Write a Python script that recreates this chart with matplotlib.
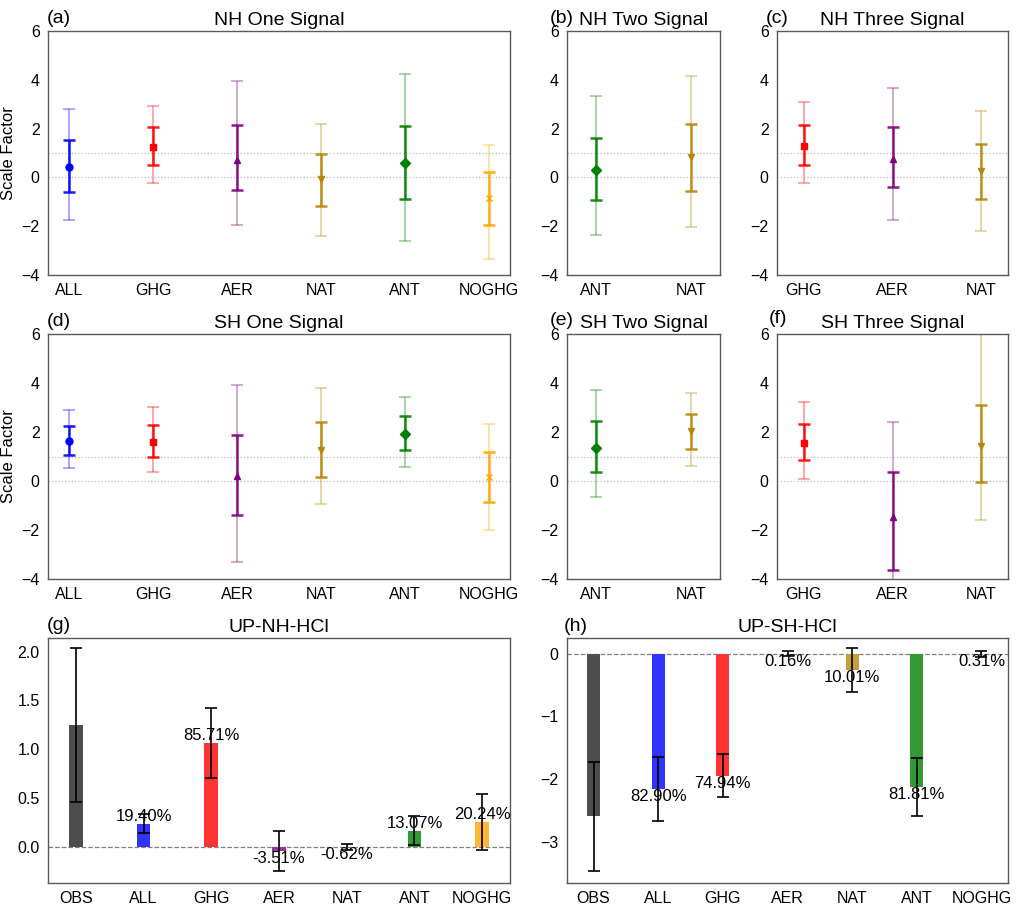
import numpy as np
import matplotlib
matplotlib.use("Agg")
import matplotlib.pyplot as plt

plt.rcParams['font.family'] = ['Liberation Sans', 'DejaVu Sans']

# ---- scale factor data (best estimate, inner range, outer range) ----
colors = {'ALL': 'blue', 'GHG': 'red', 'AER': 'purple', 'NAT': 'darkgoldenrod',
          'ANT': 'green', 'NOGHG': 'orange'}
markers = {'ALL': 'o', 'GHG': 's', 'AER': '^', 'NAT': 'v', 'ANT': 'D', 'NOGHG': 'x'}

one_names = ['ALL', 'GHG', 'AER', 'NAT', 'ANT', 'NOGHG']
two_names = ['ANT', 'NAT']
three_names = ['GHG', 'AER', 'NAT']

nh_one_best = [0.44, 1.24, 0.71, -0.07, 0.57, -0.83]
nh_one_lo66 = [-0.60, 0.51, -0.52, -1.16, -0.87, -1.95]
nh_one_hi66 = [1.53, 2.05, 2.13, 0.97, 2.12, 0.22]
nh_one_lo90 = [-1.75, -0.22, -1.97, -2.39, -2.60, -3.33]
nh_one_hi90 = [2.80, 2.94, 3.95, 2.17, 4.25, 1.34]

nh_two_best = [0.30, 0.82]
nh_two_lo66 = [-0.93, -0.55]
nh_two_hi66 = [1.61, 2.19]
nh_two_lo90 = [-2.36, -2.05]
nh_two_hi90 = [3.33, 4.17]

nh_three_best = [1.30, 0.74, 0.25]
nh_three_lo66 = [0.52, -0.41, -0.90]
nh_three_hi66 = [2.13, 2.06, 1.37]
nh_three_lo90 = [-0.23, -1.75, -2.20]
nh_three_hi90 = [3.10, 3.67, 2.72]

sh_one_best = [1.65, 1.61, 0.19, 1.27, 1.92, 0.16]
sh_one_lo66 = [1.07, 0.99, -1.37, 0.16, 1.25, -0.87]
sh_one_hi66 = [2.26, 2.29, 1.86, 2.42, 2.65, 1.20]
sh_one_lo90 = [0.52, 0.37, -3.31, -0.95, 0.58, -1.99]
sh_one_hi90 = [2.90, 3.02, 3.90, 3.80, 3.44, 2.34]

sh_two_best = [1.36, 2.04]
sh_two_lo66 = [0.35, 1.29]
sh_two_hi66 = [2.44, 2.75]
sh_two_lo90 = [-0.67, 0.61]
sh_two_hi90 = [3.70, 3.59]

sh_three_best = [1.55, -1.46, 1.44]
sh_three_lo66 = [0.84, -3.62, -0.03]
sh_three_hi66 = [2.31, 0.38, 3.09]
sh_three_lo90 = [0.10, -5.20, -1.58]
sh_three_hi90 = [3.21, 2.42, 6.60]

# ---- attributable trends ----
bar_names = ['OBS', 'ALL', 'GHG', 'AER', 'NAT', 'ANT', 'NOGHG']
bar_colors = ['#4d4d4d', '#3333ff', '#ff3333', '#993399', '#c69e3c', '#339933', '#ffb733']

nh_trend = [1.247, 0.236, 1.065, -0.044, -0.008, 0.163, 0.252]
nh_trend_err = [0.788, 0.10, 0.356, 0.207, 0.03, 0.149, 0.286]
nh_pct = [None, 19.40, 85.71, -3.51, -0.62, 13.07, 20.24]

sh_trend = [-2.596, -2.154, -1.945, -0.004, -0.260, -2.124, -0.008]
sh_trend_err = [0.87, 0.51, 0.35, 0.04, 0.35, 0.46, 0.045]
sh_pct = [None, 82.90, 74.94, 0.16, 10.01, 81.81, 0.31]

W, H = 1018, 909
fig = plt.figure(figsize=(W / 100, H / 100), dpi=100)


def add_ax(l, r, t, b):
    return fig.add_axes([l / W, 1 - b / H, (r - l) / W, (b - t) / H])


def style(ax):
    for s in ax.spines.values():
        s.set_color('#5a5a5a')
        s.set_linewidth(1.0)
    ax.tick_params(length=0, pad=6, labelsize=11.5)


def sf_panel(ax, names, best, lo66, hi66, lo90, hi90, title, wide):
    x = np.arange(len(names))
    ax.axhline(0, color='#bbbbbb', ls=':', lw=0.9, zorder=0)
    ax.axhline(1, color='#bbbbbb', ls=':', lw=0.9, zorder=0)
    for i, n in enumerate(names):
        c = colors[n]
        b = best[i]
        ax.errorbar(x[i], b, yerr=[[b - lo90[i]], [hi90[i] - b]], fmt='none',
                    ecolor=c, alpha=0.4, elinewidth=1.2, capsize=4, capthick=1.2)
        ax.errorbar(x[i], b, yerr=[[b - lo66[i]], [hi66[i] - b]], fmt='none',
                    ecolor=c, alpha=0.9, elinewidth=1.8, capsize=4, capthick=1.8)
        ax.plot(x[i], b, marker=markers[n], color=c, ms=5, ls='none')
    ax.set_xticks(x)
    ax.set_xticklabels(names)
    ax.set_ylim(-4, 6)
    ax.set_yticks([-4, -2, 0, 2, 4, 6])
    if not wide:
        ax.set_xlim(-0.3, len(names) - 0.7)
    ax.set_title(title, fontsize=14, pad=4)
    style(ax)


def bar_panel(ax, vals, errs, pcts, title):
    x = np.arange(len(bar_names))
    ax.axhline(0, color='gray', ls='--', lw=0.9, zorder=0)
    ax.bar(x, vals, width=0.2, color=bar_colors)
    ax.errorbar(x, vals, yerr=errs, fmt='none', ecolor='black', elinewidth=1.2,
                capsize=4.5, capthick=1.2)
    for i, p in enumerate(pcts):
        if p is None:
            continue
        va = 'bottom' if vals[i] > 0 else 'top'
        ax.text(x[i], vals[i], f'{p:.2f}%', ha='center', va=va, fontsize=12)
    ax.set_xticks(x)
    ax.set_xticklabels(bar_names)
    ax.set_title(title, fontsize=14, pad=4)
    style(ax)


def tag(txt, xp, yp):
    fig.text(xp / W, 1 - yp / H, txt, fontsize=14, va='baseline', ha='left')


# row 1
ax_a = add_ax(48, 510, 31, 275)
sf_panel(ax_a, one_names, nh_one_best, nh_one_lo66, nh_one_hi66, nh_one_lo90, nh_one_hi90,
         'NH One Signal', True)
ax_a.set_ylabel('Scale Factor', fontsize=12, labelpad=4)
ax_b = add_ax(567, 720, 31, 275)
sf_panel(ax_b, two_names, nh_two_best, nh_two_lo66, nh_two_hi66, nh_two_lo90, nh_two_hi90,
         'NH Two Signal', False)
ax_c = add_ax(777, 1008, 31, 275)
sf_panel(ax_c, three_names, nh_three_best, nh_three_lo66, nh_three_hi66, nh_three_lo90,
         nh_three_hi90, 'NH Three Signal', False)

# row 2
ax_d = add_ax(48, 510, 334, 579)
sf_panel(ax_d, one_names, sh_one_best, sh_one_lo66, sh_one_hi66, sh_one_lo90, sh_one_hi90,
         'SH One Signal', True)
ax_d.set_ylabel('Scale Factor', fontsize=12, labelpad=4)
ax_e = add_ax(567, 720, 334, 579)
sf_panel(ax_e, two_names, sh_two_best, sh_two_lo66, sh_two_hi66, sh_two_lo90, sh_two_hi90,
         'SH Two Signal', False)
ax_f = add_ax(777, 1008, 334, 579)
sf_panel(ax_f, three_names, sh_three_best, sh_three_lo66, sh_three_hi66, sh_three_lo90,
         sh_three_hi90, 'SH Three Signal', False)

# row 3
ax_g = add_ax(48, 510, 638, 883)
bar_panel(ax_g, nh_trend, nh_trend_err, nh_pct, 'UP-NH-HCl')
ax_g.set_ylim(-0.373, 2.14)
ax_g.set_yticks([0.0, 0.5, 1.0, 1.5, 2.0])
ax_h = add_ax(567, 1008, 638, 883)
bar_panel(ax_h, sh_trend, sh_trend_err, sh_pct, 'UP-SH-HCl')
ax_h.set_ylim(-3.66, 0.25)
ax_h.set_yticks([-3, -2, -1, 0])

tag('(a)', 47, 23)
tag('(b)', 550, 23)
tag('(c)', 766, 23)
tag('(d)', 47, 326)
tag('(e)', 550, 325)
tag('(f)', 769, 323)
tag('(g)', 47, 630)
tag('(h)', 564, 631)

fig.savefig('out.png', dpi=100)
